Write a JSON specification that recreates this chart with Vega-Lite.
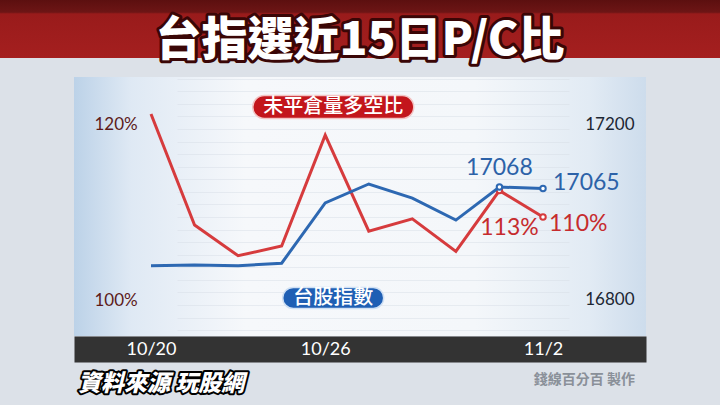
{
  "$schema": "https://vega.github.io/schema/vega-lite/v6.json",
  "background": "#dce1e8",
  "padding": 0,
  "spacing": 19,
  "bounds": "flush",
  "center": true,
  "config": {"view": {"stroke": null}, "font": "Noto Sans CJK TC"},
  "datasets": {
    "main": [
      {"date": "10/20", "pc": 1.217, "idx": 16889},
      {"date": "10/21", "pc": 1.091, "idx": 16891},
      {"date": "10/22", "pc": 1.056, "idx": 16889},
      {"date": "10/25", "pc": 1.067, "idx": 16895},
      {"date": "10/26", "pc": 1.193, "idx": 17032},
      {"date": "10/27", "pc": 1.084, "idx": 17075},
      {"date": "10/28", "pc": 1.098, "idx": 17043},
      {"date": "10/29", "pc": 1.061, "idx": 16993},
      {"date": "11/1", "pc": 1.13, "idx": 17068},
      {"date": "11/2", "pc": 1.10, "idx": 17065}
    ],
    "heading": [{"title": "台指選近15日P/C比"}],
    "footer": [
      {"text": "資料來源 玩股網", "side": "left"},
      {"text": "錢線百分百 製作", "side": "right"}
    ]
  },
  "vconcat": [
    {
      "width": 720,
      "height": 58,
      "view": {"fill": {"gradient": "linear", "x1": 0, "y1": 0, "x2": 0, "y2": 1, "stops": [{"offset": 0, "color": "#5c0f0f"}, {"offset": 0.21, "color": "#6d1515"}, {"offset": 0.24, "color": "#991b1b"}, {"offset": 1, "color": "#a51f1f"}]}, "stroke": null},
      "data": {"name": "heading"},
      "layer": [
        {"mark": {"type": "text", "fontSize": 46, "fontWeight": 900, "dy": 12, "baseline": "middle", "align": "center", "fill": "#3a0606", "stroke": "#3a0606", "strokeWidth": 6, "strokeJoin": "round"}, "encoding": {"text": {"field": "title"}}},
        {"mark": {"type": "text", "fontSize": 46, "fontWeight": 900, "dy": 12, "baseline": "middle", "align": "center", "fill": "#ffffff"}, "encoding": {"text": {"field": "title"}}}
      ]
    },
    {
      "width": 572,
      "height": 259,
      "view": {"fill": {"gradient": "linear", "x1": 0, "y1": 0, "x2": 1, "y2": 0, "stops": [{"offset": 0, "color": "#bcd2e8"}, {"offset": 0.1, "color": "#dfe9f4"}, {"offset": 0.3, "color": "#f6f8fb"}, {"offset": 0.7, "color": "#f4f7fa"}, {"offset": 0.9, "color": "#e2ebf4"}, {"offset": 1, "color": "#cddcec"}]}, "stroke": null},
      "data": {"name": "main"},
      "layer": [
        {
          "mark": {"type": "point", "opacity": 0},
          "encoding": {
            "x": {
              "field": "date", "type": "ordinal", "sort": null,
              "scale": {"type": "point", "padding": 0},
              "axis": {"orient": "bottom", "title": null, "labels": false, "domain": true, "domainColor": "#333333", "domainWidth": 26, "domainCap": "butt", "offset": 13, "ticks": false, "grid": false}
            }
          }
        },
        {
          "encoding": {
            "x": {
              "field": "date", "type": "ordinal", "sort": null,
              "scale": {"type": "point", "padding": 0, "range": [77, 469]},
              "axis": null
            },
            "y": {"field": "pc", "type": "quantitative", "scale": {"domain": [0.9648, 1.2591], "nice": false, "zero": false},
              "axis": {"orient": "left", "title": null, "values": [1.0, 1.2], "format": ".0%", "domain": false, "ticks": false, "grid": false, "labelAlign": "left", "labelPadding": -20, "labelBaseline": "alphabetic", "labelColor": "#5c1a1a", "labelFontSize": 17, "labelFont": "Lato"}}
          },
          "layer": [
            {"mark": {"type": "line", "color": "#d63b3d", "strokeWidth": 3}},
            {"transform": [{"filter": "datum.date == '11/1' || datum.date == '11/2'"}], "mark": {"type": "point", "filled": true, "fill": "#ffffff", "stroke": "#d63b3d", "strokeWidth": 2, "size": 30, "opacity": 1}},
            {"transform": [{"filter": "datum.date == '11/1'"}], "mark": {"type": "text", "align": "center", "baseline": "middle", "dx": 10, "dy": 37, "fontSize": 23, "font": "Lato", "color": "#c62b2d"}, "encoding": {"text": {"field": "pc", "type": "quantitative", "format": ".0%"}}},
            {"transform": [{"filter": "datum.date == '11/2'"}], "mark": {"type": "text", "align": "left", "baseline": "middle", "dx": 6, "dy": 7, "fontSize": 23, "font": "Lato", "color": "#c62b2d"}, "encoding": {"text": {"field": "pc", "type": "quantitative", "format": ".0%"}}},
            {"transform": [{"filter": "datum.date == '10/26'"}], "mark": {"type": "point", "shape": "M-0.757,-0.143 L0.957,-0.143 A0.143,0.143 0 0 1 0.957,0.143 L-0.757,0.143 A0.143,0.143 0 0 1 -0.757,-0.143 Z", "size": 25921, "filled": true, "fill": "#c3161c", "stroke": "#f3c4c4", "strokeWidth": 1.5, "opacity": 1}, "encoding": {"y": {"datum": 1.225, "type": "quantitative"}}},
            {"transform": [{"filter": "datum.date == '10/26'"}], "mark": {"type": "text", "text": "未平倉量多空比", "align": "center", "baseline": "middle", "dx": 8, "fontSize": 20, "fontWeight": 500, "color": "#ffffff"}, "encoding": {"y": {"datum": 1.225, "type": "quantitative"}}}
          ]
        },
        {
          "encoding": {
            "x": {
              "field": "date", "type": "ordinal", "sort": null,
              "scale": {"type": "point", "padding": 0, "range": [77, 469]},
              "axis": {"orient": "bottom", "title": null, "values": ["10/20", "10/26", "11/2"], "domain": false, "offset": 13, "ticks": false, "labelPadding": 0, "labelBaseline": "middle", "labelColor": "#ffffff", "labelFontSize": 18, "labelFont": "Lato", "labelAngle": 0, "grid": false}
            },
            "y": {"field": "idx", "type": "quantitative", "scale": {"domain": [16729.5, 17318.2], "nice": false, "zero": false},
              "axis": {"orient": "right", "title": null, "values": [16742.9, 16771.4, 16800, 16828.6, 16857.1, 16885.7, 16914.3, 16942.9, 16971.4, 17000, 17028.6, 17057.1, 17085.7, 17114.3, 17142.9, 17171.4, 17200, 17228.6, 17257.1, 17285.7, 17314.3], "labelExpr": "datum.value == 16800 || datum.value == 17200 ? datum.label : ''", "format": "d", "labelOverlap": false, "labelBound": false, "domain": false, "ticks": false, "grid": true, "gridColor": "#d5dce5", "gridOpacity": 0.45, "gridWidth": 1, "labelAlign": "right", "labelPadding": -12, "labelBaseline": "alphabetic", "labelColor": "#1c2633", "labelFontSize": 17, "labelFont": "Lato"}}
          },
          "layer": [
            {"mark": {"type": "line", "color": "#2d68b2", "strokeWidth": 3}},
            {"transform": [{"filter": "datum.date == '11/1' || datum.date == '11/2'"}], "mark": {"type": "point", "filled": true, "fill": "#ffffff", "stroke": "#2d68b2", "strokeWidth": 2, "size": 30, "opacity": 1}},
            {"transform": [{"filter": "datum.date == '11/1'"}], "mark": {"type": "text", "align": "center", "baseline": "middle", "dy": -19, "fontSize": 23, "font": "Lato", "color": "#2c62a8"}, "encoding": {"text": {"field": "idx", "type": "quantitative", "format": "d"}}},
            {"transform": [{"filter": "datum.date == '11/2'"}], "mark": {"type": "text", "align": "left", "baseline": "middle", "dx": 10, "dy": -5, "fontSize": 23, "font": "Lato", "color": "#2c62a8"}, "encoding": {"text": {"field": "idx", "type": "quantitative", "format": "d"}}},
            {"transform": [{"filter": "datum.date == '10/26'"}], "mark": {"type": "point", "shape": "M-0.634,-0.208 L0.95,-0.208 A0.208,0.208 0 0 1 0.95,0.208 L-0.634,0.208 A0.208,0.208 0 0 1 -0.634,-0.208 Z", "size": 10201, "filled": true, "fill": "#1f5fb4", "stroke": "#cfe0f4", "strokeWidth": 1.5, "opacity": 1}, "encoding": {"y": {"datum": 16816, "type": "quantitative"}}},
            {"transform": [{"filter": "datum.date == '10/26'"}], "mark": {"type": "text", "text": "台股指數", "align": "center", "baseline": "middle", "dx": 8, "fontSize": 20, "fontWeight": 500, "color": "#ffffff"}, "encoding": {"y": {"datum": 16816, "type": "quantitative"}}}
          ]
        }
      ],
      "resolve": {"scale": {"x": "independent", "y": "independent"}, "axis": {"x": "independent"}}
    },
    {
      "width": 572,
      "height": 50,
      "view": {"fill": null, "stroke": null},
      "data": {"name": "footer"},
      "encoding": {"x": {"field": "side", "type": "nominal", "scale": {"type": "point", "padding": 0}, "axis": null}},
      "layer": [
        {"transform": [{"filter": "datum.side == 'left'"}], "mark": {"type": "text", "align": "left", "baseline": "middle", "dx": 4, "dy": 4, "fontSize": 23, "fontWeight": 900, "fontStyle": "italic", "fill": "#000000", "stroke": "#000000", "strokeWidth": 4, "strokeJoin": "round"}, "encoding": {"text": {"field": "text"}}},
        {"transform": [{"filter": "datum.side == 'left'"}], "mark": {"type": "text", "align": "left", "baseline": "middle", "dx": 4, "dy": 4, "fontSize": 23, "fontWeight": 900, "fontStyle": "italic", "fill": "#ffffff"}, "encoding": {"text": {"field": "text"}}},
        {"transform": [{"filter": "datum.side == 'right'"}], "mark": {"type": "text", "align": "right", "baseline": "middle", "dx": -11, "dy": 0, "fontSize": 14, "fontWeight": 700, "fill": "#8a9099"}, "encoding": {"text": {"field": "text"}}}
      ]
    }
  ]
}
